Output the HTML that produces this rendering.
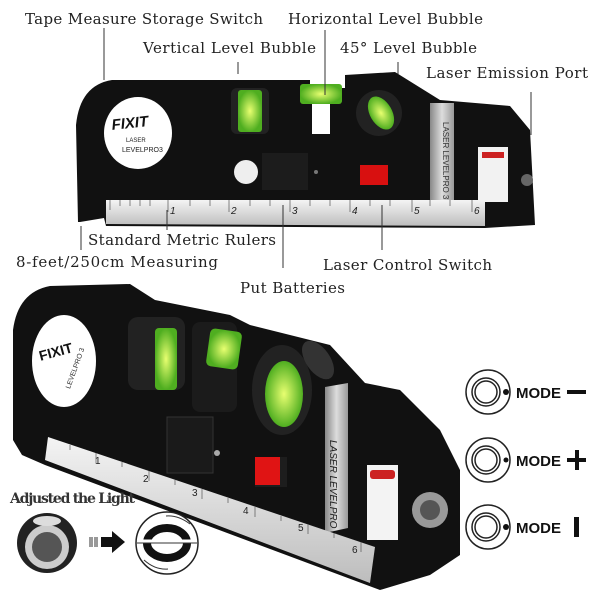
<!DOCTYPE html>
<html><head><meta charset="utf-8"><style>
html,body{margin:0;padding:0;background:#fff;}
svg{display:block}
.l{font-family:"DejaVu Serif","Liberation Serif",serif;font-size:15px;fill:#222;}
.m{font-family:"Liberation Sans",sans-serif;font-weight:bold;font-size:15px;fill:#111;}
</style></head><body>
<svg width="600" height="591" viewBox="0 0 600 591" xmlns="http://www.w3.org/2000/svg">
<defs>
<linearGradient id="sil" x1="0" y1="0" x2="0" y2="1"><stop offset="0" stop-color="#f4f4f4"/><stop offset="1" stop-color="#bdbdbd"/></linearGradient>
<linearGradient id="band" x1="0" y1="0" x2="1" y2="0"><stop offset="0" stop-color="#888"/><stop offset=".5" stop-color="#ddd"/><stop offset="1" stop-color="#999"/></linearGradient>
<radialGradient id="gr"><stop offset="0" stop-color="#e8ff70"/><stop offset="1" stop-color="#4fae20"/></radialGradient>
</defs>

<!-- TOP DEVICE -->
<path d="M78,222 L76,125 Q80,85 112,80 L310,80 L310,88 L345,88 L345,75 L395,72 L440,100 L510,106 L530,130 L535,225 L485,228 L106,226 L104,218 L80,222 Z" fill="#111"/>
<rect x="430" y="103" width="24" height="100" fill="url(#band)"/>
<text x="0" y="0" transform="translate(443,122) rotate(90)" font-family="Liberation Sans" font-size="8" fill="#333">LASER LEVELPRO 3</text>
<ellipse cx="138" cy="133" rx="34" ry="36" fill="#fff"/>
<text x="112" y="128" font-family="Liberation Sans" font-weight="bold" font-style="italic" font-size="15" fill="#111" transform="rotate(-6 130 128)">FIXIT</text>
<text x="126" y="142" font-family="Liberation Sans" font-size="6" fill="#222">LASER</text>
<text x="122" y="152" font-family="Liberation Sans" font-size="7" fill="#222">LEVELPRO3</text>
<rect x="231" y="88" width="38" height="46" rx="6" fill="#222"/>
<rect x="238" y="90" width="24" height="42" rx="3" fill="url(#gr)"/>
<rect x="300" y="84" width="42" height="20" rx="3" fill="url(#gr)"/>
<rect x="312" y="104" width="18" height="30" fill="#fff"/>
<circle cx="379" cy="113" r="23" fill="#222"/>
<ellipse cx="381" cy="113" rx="11" ry="18" fill="url(#gr)" transform="rotate(-30 381 113)"/>
<circle cx="246" cy="172" r="12" fill="#eee"/>
<rect x="262" y="153" width="46" height="37" fill="#1c1c1c"/>
<circle cx="316" cy="172" r="2" fill="#777"/>
<rect x="360" y="165" width="28" height="20" fill="#d81010"/>
<rect x="478" y="147" width="30" height="55" fill="#f2f2f2"/>
<rect x="482" y="152" width="22" height="6" fill="#c22"/>
<circle cx="527" cy="180" r="6" fill="#666"/>
<path d="M106,200 L485,200 L485,226 L106,224 Z" fill="url(#sil)"/>
<g stroke="#555" stroke-width="0.7">
<path d="M110,200v10M120,200v6M130,200v6M140,200v6M150,200v6M168,200v12M190,200v6M210,200v6M229,200v12M250,200v6M270,200v6M290,200v12M310,200v6M330,200v6M350,200v12M370,200v6M390,200v6M412,200v12M430,200v6M450,200v6M472,200v12"/>
</g>
<g font-family="Liberation Sans" font-size="10" font-style="italic" fill="#222">
<text x="170" y="214">1</text><text x="231" y="214">2</text><text x="292" y="214">3</text><text x="352" y="214">4</text><text x="414" y="214">5</text><text x="474" y="214">6</text></g>

<!-- leader lines -->
<g stroke="#333" stroke-width="1">
<path d="M104,28V80M325,30V95M238,62V74M398,62V74M531,92V135M167,210V230M81,226V250M283,205V268M382,205V250"/>
</g>
<text class="l" x="25" y="24" textLength="238">Tape Measure Storage Switch</text>
<text class="l" x="288" y="24" textLength="195">Horizontal Level Bubble</text>
<text class="l" x="143" y="53" textLength="173">Vertical Level Bubble</text>
<text class="l" x="340" y="53" textLength="137">45° Level Bubble</text>
<text class="l" x="426" y="78" textLength="162">Laser Emission Port</text>
<text class="l" x="88" y="245" textLength="188">Standard Metric Rulers</text>
<text class="l" x="16" y="267" textLength="202">8-feet/250cm Measuring</text>
<text class="l" x="323" y="270" textLength="169">Laser Control Switch</text>
<text class="l" x="240" y="293" textLength="105">Put Batteries</text>

<!-- BOTTOM DEVICE -->
<path d="M13,440 L13,330 Q18,292 50,286 L130,284 L155,300 L230,315 L250,325 L330,345 L365,383 L400,390 L440,430 L460,470 L460,555 L430,575 L380,590 L45,465 L22,455 Z" fill="#111"/>
<ellipse cx="64" cy="361" rx="32" ry="46" fill="#fff"/>
<text x="38" y="358" font-family="Liberation Sans" font-weight="bold" font-size="14" fill="#111" transform="rotate(-15 50 350)">FIXIT</text>
<text x="60" y="375" font-family="Liberation Sans" font-size="7" fill="#333" transform="rotate(-70 75 375)">LEVELPRO 3</text>
<rect x="128" y="317" width="57" height="73" rx="10" fill="#222"/>
<rect x="155" y="328" width="22" height="62" rx="4" fill="url(#gr)"/>
<rect x="192" y="322" width="45" height="90" rx="8" fill="#1b1b1b"/>
<rect x="208" y="330" width="32" height="38" rx="5" fill="url(#gr)" transform="rotate(8 224 349)"/>
<ellipse cx="282" cy="390" rx="30" ry="45" fill="#222"/>
<ellipse cx="284" cy="394" rx="19" ry="33" fill="url(#gr)"/>
<ellipse cx="318" cy="360" rx="12" ry="22" fill="#333" transform="rotate(-35 318 360)"/>
<rect x="167" y="417" width="46" height="56" fill="#1a1a1a" stroke="#333"/>
<circle cx="217" cy="453" r="3" fill="#aaa"/>
<rect x="255" y="457" width="32" height="30" fill="#1d1d1d"/>
<rect x="255" y="457" width="25" height="28" fill="#e01414"/>
<path d="M325,387 L348,383 L348,528 L325,533 Z" fill="url(#band)"/>
<text transform="translate(330,440) rotate(90)" font-family="Liberation Sans" font-style="italic" font-size="10" fill="#222">LASER LEVELPRO 3</text>
<rect x="367" y="465" width="31" height="75" fill="#f3f3f3"/>
<rect x="370" y="470" width="25" height="9" rx="3" fill="#c22"/>
<circle cx="430" cy="510" r="18" fill="#999"/>
<circle cx="430" cy="510" r="10" fill="#555"/>
<path d="M48,437 L375,547 L370,583 L45,460 Z" fill="url(#sil)"/>
<g stroke="#555" stroke-width="0.7">
<path d="M96,453v10M149,471v10M202,489v10M255,507v10M308,524v10M361,542v10M70,445v5M122,462v5M175,480v5M228,498v5M281,516v5M334,533v5"/>
</g>
<g font-family="Liberation Sans" font-size="10" fill="#222">
<text x="95" y="464">1</text><text x="143" y="482">2</text><text x="192" y="496">3</text><text x="243" y="514">4</text><text x="298" y="531">5</text><text x="352" y="553">6</text></g>

<!-- mode icons -->
<g fill="none" stroke="#222" stroke-width="1.5">
<circle cx="488" cy="392" r="22"/><circle cx="486" cy="392" r="11"/><circle cx="486" cy="392" r="14"/>
<circle cx="488" cy="460" r="22"/><circle cx="486" cy="460" r="11"/><circle cx="486" cy="460" r="14"/>
<circle cx="488" cy="527" r="22"/><circle cx="486" cy="527" r="11"/><circle cx="486" cy="527" r="14"/>
</g>
<circle cx="506" cy="392" r="3" fill="#111"/><circle cx="506" cy="460" r="2.5" fill="#111"/><circle cx="506" cy="527" r="3" fill="#111"/>
<text class="m" x="516" y="398">MODE</text>
<text class="m" x="516" y="466">MODE</text>
<text class="m" x="516" y="533">MODE</text>
<rect x="567" y="390" width="19" height="4" fill="#111"/>
<rect x="567" y="458" width="19" height="4" fill="#111"/><rect x="575" y="450" width="4" height="20" fill="#111"/>
<rect x="574" y="517" width="5" height="20" fill="#111"/>

<!-- adjust light -->
<text x="10" y="503" font-family="DejaVu Serif, Liberation Serif, serif" font-weight="bold" font-size="14" fill="#333" textLength="125">Adjusted the Light</text>
<circle cx="47" cy="543" r="30" fill="#222"/>
<circle cx="47" cy="547" r="22" fill="#ccc"/>
<circle cx="47" cy="547" r="15" fill="#555"/>
<ellipse cx="47" cy="521" rx="14" ry="5" fill="#ddd"/>
<rect x="89" y="537" width="4" height="10" fill="#999"/><rect x="94" y="537" width="4" height="10" fill="#999"/>
<path d="M101,537 H112 V531 L125,542 L112,553 V547 H101 Z" fill="#111"/>
<circle cx="167" cy="543" r="31" fill="#fff" stroke="#222" stroke-width="1.5"/>
<ellipse cx="167" cy="543" rx="20" ry="15" fill="none" stroke="#111" stroke-width="8"/>
<line x1="137" y1="541" x2="197" y2="541" stroke="#fff" stroke-width="3"/>
<line x1="137" y1="543" x2="197" y2="543" stroke="#333" stroke-width="1"/>
<path d="M190,524 Q178,515 166,516" fill="none" stroke="#333" stroke-width="1"/>
<path d="M144,560 Q155,570 168,569" fill="none" stroke="#333" stroke-width="1"/>
</svg>
</body></html>
